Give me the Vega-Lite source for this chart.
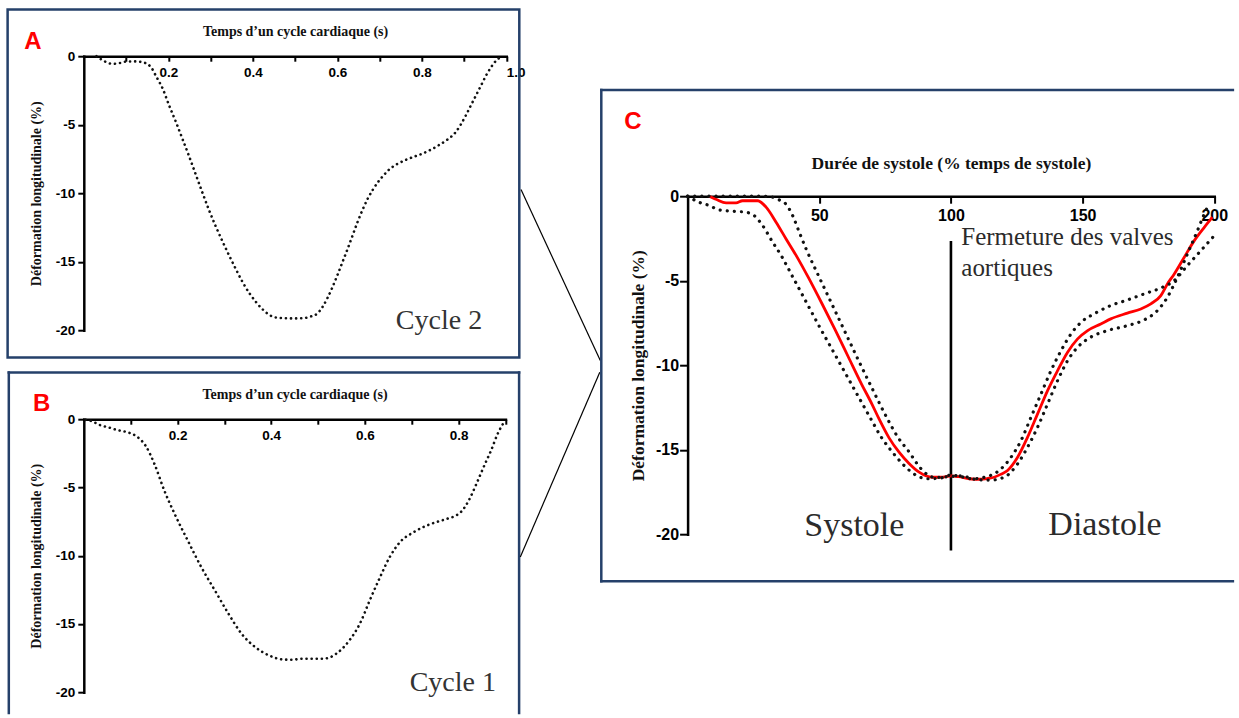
{
  "$schema": "https://vega.github.io/schema/vega-lite/v6.json",
  "background": "white",
  "padding": {"left": 5.8, "top": 8.2, "right": 0, "bottom": 0},
  "bounds": "flush",
  "spacing": 603.8,
  "config": {
    "view": {"stroke": null},
    "axis": {"grid": false, "domainColor": "#000", "domainWidth": 2.5, "domainCap": "square", "tickColor": "#000", "tickWidth": 2, "labelColor": "#000", "labelFont": "Liberation Sans", "labelFontWeight": "bold", "titleColor": "#111", "titleFont": "Liberation Serif", "titleFontWeight": "bold", "labelOverlap": false, "labelFlush": false, "labelBound": false}
  },
  "hconcat": [
    {
      "vconcat": [
        {
          "width": 422.5,
          "height": 274,
          "layer": [
            {"data": {"values": [{}]}, "mark": {"type": "rect", "filled": false, "stroke": "#25406A", "strokeWidth": 2.5, "clip": false},
             "encoding": {"x": {"datum": -0.18035, "type": "quantitative", "scale": {"domain": [0, 1], "nice": false, "zero": false}}, "x2": {"datum": 1.03077}, "y": {"datum": 3.4015, "type": "quantitative", "scale": {"domain": [-20, 0], "nice": false, "zero": false}}, "y2": {"datum": -21.985}}},
            {"data": {"values": [{}]}, "mark": {"type": "rule", "color": "#000", "strokeWidth": 1.2, "clip": false},
             "encoding": {"x": {"datum": 1.0348, "type": "quantitative", "scale": {"domain": [0, 1], "nice": false, "zero": false}}, "x2": {"datum": 1.2225}, "y": {"datum": -9.737, "type": "quantitative", "scale": {"domain": [-20, 0], "nice": false, "zero": false}}, "y2": {"datum": -22.219}}},
            {"data": {"values": [
              {"t": 0.03, "s": 0}, {"t": 0.037, "s": -0.15}, {"t": 0.052, "s": -0.42}, {"t": 0.068, "s": -0.56}, {"t": 0.085, "s": -0.5}, {"t": 0.1, "s": -0.39}, {"t": 0.12, "s": -0.38}, {"t": 0.139, "s": -0.44}, {"t": 0.159, "s": -0.8}, {"t": 0.171, "s": -1.46}, {"t": 0.187, "s": -2.39}, {"t": 0.202, "s": -3.6}, {"t": 0.218, "s": -4.8}, {"t": 0.233, "s": -6.0}, {"t": 0.248, "s": -7.2}, {"t": 0.264, "s": -8.55}, {"t": 0.28, "s": -9.9}, {"t": 0.296, "s": -11.2}, {"t": 0.312, "s": -12.4}, {"t": 0.328, "s": -13.5}, {"t": 0.344, "s": -14.55}, {"t": 0.36, "s": -15.55}, {"t": 0.376, "s": -16.5}, {"t": 0.392, "s": -17.3}, {"t": 0.408, "s": -17.96}, {"t": 0.424, "s": -18.5}, {"t": 0.44, "s": -18.9}, {"t": 0.456, "s": -19.08}, {"t": 0.472, "s": -19.12}, {"t": 0.5, "s": -19.14}, {"t": 0.52, "s": -19.12}, {"t": 0.537, "s": -19.0}, {"t": 0.552, "s": -18.8}, {"t": 0.564, "s": -18.35}, {"t": 0.576, "s": -17.7}, {"t": 0.588, "s": -16.9}, {"t": 0.6, "s": -16.0}, {"t": 0.612, "s": -15.05}, {"t": 0.624, "s": -14.1}, {"t": 0.636, "s": -13.1}, {"t": 0.648, "s": -12.1}, {"t": 0.66, "s": -11.2}, {"t": 0.672, "s": -10.4}, {"t": 0.684, "s": -9.75}, {"t": 0.696, "s": -9.2}, {"t": 0.708, "s": -8.75}, {"t": 0.72, "s": -8.35}, {"t": 0.74, "s": -7.9}, {"t": 0.76, "s": -7.6}, {"t": 0.78, "s": -7.35}, {"t": 0.8, "s": -7.13}, {"t": 0.82, "s": -6.85}, {"t": 0.84, "s": -6.5}, {"t": 0.86, "s": -6.1}, {"t": 0.88, "s": -5.55}, {"t": 0.892, "s": -5.0}, {"t": 0.904, "s": -4.34}, {"t": 0.916, "s": -3.6}, {"t": 0.928, "s": -2.88}, {"t": 0.94, "s": -2.15}, {"t": 0.952, "s": -1.42}, {"t": 0.964, "s": -0.8}, {"t": 0.976, "s": -0.32}, {"t": 0.985, "s": -0.1}, {"t": 0.992, "s": 0}
            ]},
             "mark": {"type": "line", "interpolate": "monotone", "color": "#111", "strokeWidth": 2.6, "strokeDash": [0.1, 5], "strokeCap": "round", "clip": false},
             "encoding": {
               "x": {"field": "t", "type": "quantitative", "scale": {"domain": [0, 1], "nice": false, "zero": false},
                     "axis": {"orient": "top", "title": "Temps d’un cycle cardiaque (s)", "titleFontSize": 14, "titlePadding": 17, "values": [0.1, 0.2, 0.3, 0.4, 0.5, 0.6, 0.7, 0.8, 0.9, 1.0], "labelExpr": "round(datum.value*10) % 2 == 0 ? format(datum.value, '.1f') : ''", "labelFontSize": 13.5, "tickSize": -5, "labelPadding": -4.5, "labelBaseline": "top", "labelAlign": {"condition": {"test": "datum.value > 0.99", "value": "left"}, "value": "center"}}},
               "y": {"field": "s", "type": "quantitative", "scale": {"domain": [-20, 0], "nice": false, "zero": false},
                     "axis": {"orient": "left", "title": "Déformation longitudinale (%)", "titleFontSize": 14, "titlePadding": 12, "values": [0, -5, -10, -15, -20], "labelExpr": "toString(datum.value)", "labelFontSize": 13.5, "tickSize": 6, "labelPadding": 3}}
             }},
            {"data": {"values": [{}]}, "mark": {"type": "text", "text": "Cycle 2", "font": "Liberation Serif", "fontSize": 28, "color": "#333", "align": "center", "baseline": "alphabetic", "clip": false},
             "encoding": {"x": {"datum": 0.8407, "type": "quantitative", "scale": {"domain": [0, 1], "nice": false, "zero": false}}, "y": {"datum": -19.905, "type": "quantitative", "scale": {"domain": [-20, 0], "nice": false, "zero": false}}}},
            {"data": {"values": [{}]}, "mark": {"type": "text", "text": "A", "font": "Liberation Sans", "fontWeight": "bold", "fontSize": 24, "color": "#FF0000", "align": "center", "baseline": "alphabetic", "clip": false},
             "encoding": {"x": {"datum": -0.1202, "type": "quantitative", "scale": {"domain": [0, 1], "nice": false, "zero": false}}, "y": {"datum": 0.533, "type": "quantitative", "scale": {"domain": [-20, 0], "nice": false, "zero": false}}}}
          ]
        },
        {
          "width": 421.65,
          "height": 273,
          "layer": [
            {"data": {"values": [{}]}, "mark": {"type": "rule", "color": "#25406A", "strokeWidth": 2.5, "strokeCap": "square", "clip": false},
             "encoding": {"x": {"datum": -0.16009, "type": "quantitative", "scale": {"domain": [0, 0.9], "nice": false, "zero": false}}, "x2": {"datum": 0.92914}, "y": {"datum": 3.4286, "type": "quantitative", "scale": {"domain": [-20, 0], "nice": false, "zero": false}}}},
            {"data": {"values": [{}]}, "mark": {"type": "rule", "color": "#25406A", "strokeWidth": 2.5, "strokeCap": "square", "clip": false},
             "encoding": {"x": {"datum": -0.16009, "type": "quantitative", "scale": {"domain": [0, 0.9], "nice": false, "zero": false}}, "y": {"datum": 3.4286, "type": "quantitative", "scale": {"domain": [-20, 0], "nice": false, "zero": false}}, "y2": {"datum": -21.52}}},
            {"data": {"values": [{}]}, "mark": {"type": "rule", "color": "#25406A", "strokeWidth": 2.5, "strokeCap": "square", "clip": false},
             "encoding": {"x": {"datum": 0.92914, "type": "quantitative", "scale": {"domain": [0, 0.9], "nice": false, "zero": false}}, "y": {"datum": 3.4286, "type": "quantitative", "scale": {"domain": [-20, 0], "nice": false, "zero": false}}, "y2": {"datum": -21.52}}},
            {"data": {"values": [{}]}, "mark": {"type": "rule", "color": "#000", "strokeWidth": 1.2, "clip": false},
             "encoding": {"x": {"datum": 1.10139, "type": "quantitative", "scale": {"domain": [0, 0.9], "nice": false, "zero": false}}, "x2": {"datum": 0.9317}, "y": {"datum": 3.443, "type": "quantitative", "scale": {"domain": [-20, 0], "nice": false, "zero": false}}, "y2": {"datum": -10.088}}},
            {"data": {"values": [
              {"t": 0.004, "s": -0.05}, {"t": 0.015, "s": -0.12}, {"t": 0.036, "s": -0.45}, {"t": 0.054, "s": -0.61}, {"t": 0.072, "s": -0.8}, {"t": 0.09, "s": -0.93}, {"t": 0.111, "s": -1.22}, {"t": 0.132, "s": -1.95}, {"t": 0.151, "s": -3.3}, {"t": 0.172, "s": -5.24}, {"t": 0.194, "s": -6.95}, {"t": 0.222, "s": -8.9}, {"t": 0.251, "s": -10.85}, {"t": 0.28, "s": -12.56}, {"t": 0.309, "s": -14.26}, {"t": 0.337, "s": -15.73}, {"t": 0.366, "s": -16.7}, {"t": 0.395, "s": -17.3}, {"t": 0.424, "s": -17.6}, {"t": 0.445, "s": -17.62}, {"t": 0.467, "s": -17.55}, {"t": 0.49, "s": -17.55}, {"t": 0.51, "s": -17.55}, {"t": 0.525, "s": -17.45}, {"t": 0.538, "s": -17.2}, {"t": 0.552, "s": -16.8}, {"t": 0.567, "s": -16.2}, {"t": 0.589, "s": -15.0}, {"t": 0.61, "s": -13.3}, {"t": 0.632, "s": -11.6}, {"t": 0.653, "s": -10.1}, {"t": 0.675, "s": -9.0}, {"t": 0.703, "s": -8.3}, {"t": 0.739, "s": -7.7}, {"t": 0.775, "s": -7.3}, {"t": 0.792, "s": -7.1}, {"t": 0.804, "s": -6.83}, {"t": 0.815, "s": -6.35}, {"t": 0.825, "s": -5.73}, {"t": 0.836, "s": -4.9}, {"t": 0.847, "s": -4.02}, {"t": 0.858, "s": -3.15}, {"t": 0.869, "s": -2.32}, {"t": 0.883, "s": -1.1}, {"t": 0.899, "s": -0.1}
            ]},
             "mark": {"type": "line", "interpolate": "monotone", "color": "#111", "strokeWidth": 2.6, "strokeDash": [0.1, 5], "strokeCap": "round", "clip": false},
             "encoding": {
               "x": {"field": "t", "type": "quantitative", "scale": {"domain": [0, 0.9], "nice": false, "zero": false},
                     "axis": {"orient": "top", "title": "Temps d’un cycle cardiaque (s)", "titleFontSize": 14, "titlePadding": 17, "values": [0.1, 0.2, 0.3, 0.4, 0.5, 0.6, 0.7, 0.8, 0.9], "labelExpr": "round(datum.value*10) % 2 == 0 ? format(datum.value, '.1f') : ''", "labelFontSize": 13.5, "tickSize": -5, "labelPadding": -4.5, "labelBaseline": "top"}},
               "y": {"field": "s", "type": "quantitative", "scale": {"domain": [-20, 0], "nice": false, "zero": false},
                     "axis": {"orient": "left", "title": "Déformation longitudinale (%)", "titleFontSize": 14, "titlePadding": 12, "values": [0, -5, -10, -15, -20], "labelExpr": "toString(datum.value)", "labelFontSize": 13.5, "tickSize": 6, "labelPadding": 3}}
             }},
            {"data": {"values": [{}]}, "mark": {"type": "text", "text": "Cycle 1", "font": "Liberation Serif", "fontSize": 28, "color": "#333", "align": "center", "baseline": "alphabetic", "clip": false},
             "encoding": {"x": {"datum": 0.7876, "type": "quantitative", "scale": {"domain": [0, 0.9], "nice": false, "zero": false}}, "y": {"datum": -19.88, "type": "quantitative", "scale": {"domain": [-20, 0], "nice": false, "zero": false}}}},
            {"data": {"values": [{}]}, "mark": {"type": "text", "text": "B", "font": "Liberation Sans", "fontWeight": "bold", "fontSize": 24, "color": "#FF0000", "align": "center", "baseline": "alphabetic", "clip": false},
             "encoding": {"x": {"datum": -0.0901, "type": "quantitative", "scale": {"domain": [0, 0.9], "nice": false, "zero": false}}, "y": {"datum": 0.63, "type": "quantitative", "scale": {"domain": [-20, 0], "nice": false, "zero": false}}}}
          ]
        }
      ],
      "spacing": 89,
      "bounds": "flush"
    },
    {
      "vconcat": [
        {"width": 1, "height": 140, "data": {"values": [{}]}, "mark": {"type": "text", "text": ""}},
        {
          "width": 526.7,
          "height": 338,
          "layer": [
            {"data": {"values": [{}]}, "mark": {"type": "rule", "color": "#25406A", "strokeWidth": 2.5, "strokeCap": "square", "clip": false},
             "encoding": {"x": {"datum": -32.77, "type": "quantitative", "scale": {"domain": [0, 200], "nice": false, "zero": false}}, "x2": {"datum": 207.06}, "y": {"datum": 6.29, "type": "quantitative", "scale": {"domain": [-20, 0], "nice": false, "zero": false}}}},
            {"data": {"values": [{}]}, "mark": {"type": "rule", "color": "#25406A", "strokeWidth": 2.5, "strokeCap": "square", "clip": false},
             "encoding": {"x": {"datum": -32.77, "type": "quantitative", "scale": {"domain": [0, 200], "nice": false, "zero": false}}, "y": {"datum": 6.29, "type": "quantitative", "scale": {"domain": [-20, 0], "nice": false, "zero": false}}, "y2": {"datum": -22.781}}},
            {"data": {"values": [{}]}, "mark": {"type": "rule", "color": "#25406A", "strokeWidth": 2.5, "strokeCap": "square", "clip": false},
             "encoding": {"x": {"datum": -32.77, "type": "quantitative", "scale": {"domain": [0, 200], "nice": false, "zero": false}}, "x2": {"datum": 207.06}, "y": {"datum": -22.781, "type": "quantitative", "scale": {"domain": [-20, 0], "nice": false, "zero": false}}}},
            {"data": {"values": [{}]}, "mark": {"type": "rule", "color": "#000", "strokeWidth": 2.6, "clip": false},
             "encoding": {"x": {"datum": 100, "type": "quantitative", "scale": {"domain": [0, 200], "nice": false, "zero": false}}, "y": {"datum": -2.65, "type": "quantitative", "scale": {"domain": [-20, 0], "nice": false, "zero": false}}, "y2": {"datum": -20.97}}},
            {"data": {"values": [
              {"x": 8.2, "y": 0}, {"x": 11, "y": -0.2}, {"x": 14.6, "y": -0.4}, {"x": 18.4, "y": -0.4}, {"x": 20.9, "y": -0.27}, {"x": 26.6, "y": -0.27}, {"x": 29.8, "y": -0.65}, {"x": 33.6, "y": -1.54}, {"x": 37.4, "y": -2.53}, {"x": 41.2, "y": -3.5}, {"x": 46, "y": -4.85}, {"x": 51, "y": -6.35}, {"x": 56, "y": -7.9}, {"x": 61, "y": -9.5}, {"x": 66, "y": -11.1}, {"x": 70, "y": -12.3}, {"x": 72.7, "y": -13.18}, {"x": 76.5, "y": -14.3}, {"x": 80.3, "y": -15.15}, {"x": 84, "y": -15.8}, {"x": 87.9, "y": -16.33}, {"x": 93, "y": -16.63}, {"x": 97, "y": -16.62}, {"x": 100, "y": -16.55}, {"x": 103, "y": -16.6}, {"x": 107, "y": -16.72}, {"x": 111, "y": -16.75}, {"x": 114, "y": -16.7}, {"x": 116.4, "y": -16.63}, {"x": 119, "y": -16.45}, {"x": 121.5, "y": -16.23}, {"x": 125.3, "y": -15.45}, {"x": 129.1, "y": -14.26}, {"x": 132.9, "y": -12.88}, {"x": 136.7, "y": -11.5}, {"x": 140.5, "y": -10.32}, {"x": 144.3, "y": -9.23}, {"x": 148.1, "y": -8.44}, {"x": 151.9, "y": -7.95}, {"x": 156.9, "y": -7.56}, {"x": 160.7, "y": -7.26}, {"x": 167, "y": -6.92}, {"x": 172.1, "y": -6.67}, {"x": 175.9, "y": -6.37}, {"x": 179.7, "y": -5.88}, {"x": 182.2, "y": -5.19}, {"x": 184.8, "y": -4.6}, {"x": 188.6, "y": -3.61}, {"x": 192.4, "y": -2.63}, {"x": 196.2, "y": -1.84}, {"x": 199.3, "y": -1.24}
            ]},
             "mark": {"type": "line", "interpolate": "monotone", "color": "#FF0000", "strokeWidth": 2.8, "clip": false},
             "encoding": {
               "x": {"field": "x", "type": "quantitative", "scale": {"domain": [0, 200], "nice": false, "zero": false},
                     "axis": {"orient": "top", "title": "Durée de systole (% temps de systole)", "titleFontSize": 17.5, "titlePadding": 23, "values": [50, 100, 150, 200], "labelExpr": "toString(datum.value)", "labelFontSize": 16, "tickSize": -7, "labelPadding": -4, "labelBaseline": "top"}},
               "y": {"field": "y", "type": "quantitative", "scale": {"domain": [-20, 0], "nice": false, "zero": false},
                     "axis": {"orient": "left", "title": "Déformation longitudinale (%)", "titleFontSize": 17.5, "titlePadding": 8, "values": [0, -5, -10, -15, -20], "labelExpr": "toString(datum.value)", "labelFontSize": 16, "tickSize": 8, "labelPadding": 1}}
             }},
            {"data": {"values": [
              {"x": 0, "y": 0}, {"x": 4.4, "y": -0.36}, {"x": 8.2, "y": -0.55}, {"x": 12, "y": -0.81}, {"x": 17.1, "y": -0.89}, {"x": 22.2, "y": -0.95}, {"x": 25.3, "y": -1.15}, {"x": 28.5, "y": -1.74}, {"x": 32.3, "y": -2.72}, {"x": 35.5, "y": -3.5}, {"x": 40, "y": -4.8}, {"x": 45, "y": -6.25}, {"x": 50, "y": -7.7}, {"x": 55, "y": -9.1}, {"x": 60, "y": -10.5}, {"x": 65, "y": -11.9}, {"x": 69.6, "y": -13.18}, {"x": 73.5, "y": -14.25}, {"x": 77.8, "y": -15.15}, {"x": 82, "y": -15.9}, {"x": 86.6, "y": -16.5}, {"x": 91, "y": -16.72}, {"x": 96, "y": -16.68}, {"x": 100, "y": -16.5}, {"x": 104, "y": -16.6}, {"x": 108, "y": -16.72}, {"x": 113, "y": -16.62}, {"x": 118.3, "y": -16.23}, {"x": 122.8, "y": -15.45}, {"x": 126.6, "y": -14.46}, {"x": 130.4, "y": -13.08}, {"x": 134.2, "y": -11.7}, {"x": 138, "y": -10.32}, {"x": 141.8, "y": -9.14}, {"x": 145.6, "y": -8.15}, {"x": 149.4, "y": -7.46}, {"x": 154.4, "y": -6.96}, {"x": 160.7, "y": -6.47}, {"x": 167, "y": -6.14}, {"x": 173.4, "y": -5.78}, {"x": 179.7, "y": -5.43}, {"x": 184.8, "y": -4.99}, {"x": 189.8, "y": -4.1}, {"x": 194.9, "y": -3.22}, {"x": 200, "y": -2.33}
            ]},
             "mark": {"type": "line", "interpolate": "monotone", "color": "#111", "strokeWidth": 3.2, "strokeDash": [0.1, 7], "strokeCap": "round", "clip": false},
             "encoding": {"x": {"field": "x", "type": "quantitative", "scale": {"domain": [0, 200], "nice": false, "zero": false}}, "y": {"field": "y", "type": "quantitative", "scale": {"domain": [-20, 0], "nice": false, "zero": false}}}},
            {"data": {"values": [
              {"x": 0, "y": 0}, {"x": 10, "y": 0}, {"x": 20, "y": 0}, {"x": 28, "y": 0}, {"x": 32, "y": -0.05}, {"x": 34.5, "y": -0.2}, {"x": 37.3, "y": -0.46}, {"x": 39.9, "y": -1.15}, {"x": 42.4, "y": -2.13}, {"x": 45, "y": -3.12}, {"x": 50, "y": -4.8}, {"x": 55, "y": -6.45}, {"x": 60, "y": -8.1}, {"x": 65, "y": -9.75}, {"x": 70, "y": -11.35}, {"x": 75.9, "y": -13.18}, {"x": 80, "y": -14.3}, {"x": 84.2, "y": -15.15}, {"x": 87, "y": -15.8}, {"x": 89.9, "y": -16.33}, {"x": 94, "y": -16.65}, {"x": 99, "y": -16.6}, {"x": 104, "y": -16.55}, {"x": 109, "y": -16.75}, {"x": 115, "y": -16.8}, {"x": 120.2, "y": -16.63}, {"x": 125.3, "y": -15.84}, {"x": 129.1, "y": -14.85}, {"x": 132.9, "y": -13.67}, {"x": 136.7, "y": -12.29}, {"x": 140.5, "y": -10.91}, {"x": 144.3, "y": -9.73}, {"x": 148.1, "y": -8.94}, {"x": 153.1, "y": -8.34}, {"x": 159.5, "y": -7.95}, {"x": 167, "y": -7.66}, {"x": 173.4, "y": -7.32}, {"x": 178.4, "y": -6.77}, {"x": 182.2, "y": -5.98}, {"x": 186, "y": -4.79}, {"x": 189.8, "y": -3.41}, {"x": 193.6, "y": -2.04}, {"x": 196.2, "y": -1.05}, {"x": 197.4, "y": -0.65}
            ]},
             "mark": {"type": "line", "interpolate": "monotone", "color": "#111", "strokeWidth": 3.2, "strokeDash": [0.1, 7], "strokeCap": "round", "clip": false},
             "encoding": {"x": {"field": "x", "type": "quantitative", "scale": {"domain": [0, 200], "nice": false, "zero": false}}, "y": {"field": "y", "type": "quantitative", "scale": {"domain": [-20, 0], "nice": false, "zero": false}}}},
            {"data": {"values": [{}]}, "mark": {"type": "text", "text": ["Fermeture des valves", "aortiques"], "lineHeight": 31, "font": "Liberation Serif", "fontSize": 25, "color": "#2b2b2b", "align": "left", "baseline": "alphabetic", "clip": false},
             "encoding": {"x": {"datum": 103.93, "type": "quantitative", "scale": {"domain": [0, 200], "nice": false, "zero": false}}, "y": {"datum": -2.864, "type": "quantitative", "scale": {"domain": [-20, 0], "nice": false, "zero": false}}}},
            {"data": {"values": [{}]}, "mark": {"type": "text", "text": "Systole", "font": "Liberation Serif", "fontSize": 34, "color": "#2b2b2b", "align": "center", "baseline": "alphabetic", "clip": false},
             "encoding": {"x": {"datum": 63.3, "type": "quantitative", "scale": {"domain": [0, 200], "nice": false, "zero": false}}, "y": {"datum": -20.08, "type": "quantitative", "scale": {"domain": [-20, 0], "nice": false, "zero": false}}}},
            {"data": {"values": [{}]}, "mark": {"type": "text", "text": "Diastole", "font": "Liberation Serif", "fontSize": 34, "color": "#2b2b2b", "align": "center", "baseline": "alphabetic", "clip": false},
             "encoding": {"x": {"datum": 158.5, "type": "quantitative", "scale": {"domain": [0, 200], "nice": false, "zero": false}}, "y": {"datum": -20.04, "type": "quantitative", "scale": {"domain": [-20, 0], "nice": false, "zero": false}}}},
            {"data": {"values": [{}]}, "mark": {"type": "text", "text": "C", "font": "Liberation Sans", "fontWeight": "bold", "fontSize": 24, "color": "#FF0000", "align": "center", "baseline": "alphabetic", "clip": false},
             "encoding": {"x": {"datum": -20.73, "type": "quantitative", "scale": {"domain": [0, 200], "nice": false, "zero": false}}, "y": {"datum": 3.982, "type": "quantitative", "scale": {"domain": [-20, 0], "nice": false, "zero": false}}}}
          ]
        }
      ],
      "spacing": 0,
      "bounds": "flush"
    }
  ]
}
